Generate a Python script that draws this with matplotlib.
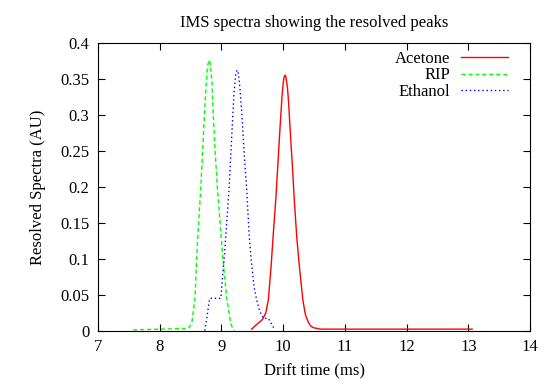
import matplotlib
matplotlib.use("Agg")
import matplotlib.pyplot as plt

plt.rcParams['font.family'] = ['Liberation Serif', 'DejaVu Serif']

# Acetone (red, solid)
acetone_x = [9.49, 9.55, 9.62, 9.669, 9.72, 9.76, 9.804, 9.84, 9.88, 9.92, 9.95, 9.98,
             10.0, 10.015, 10.031, 10.045, 10.07, 10.09, 10.11, 10.145, 10.18, 10.22,
             10.263, 10.318, 10.36, 10.41, 10.45, 10.49, 10.55, 10.6, 13.06]
acetone_y = [0.002, 0.007, 0.012, 0.016, 0.025, 0.043, 0.089, 0.135, 0.182, 0.240, 0.284, 0.325,
             0.345, 0.353, 0.356, 0.353, 0.338, 0.315, 0.284, 0.235, 0.182, 0.130,
             0.089, 0.043, 0.022, 0.011, 0.006, 0.004, 0.003, 0.002, 0.002]

# RIP (green, dashed)
rip_x = [7.57, 8.0, 8.464, 8.519, 8.572, 8.60, 8.63, 8.664, 8.695, 8.723, 8.75, 8.775,
         8.80, 8.82, 8.845, 8.869, 8.90, 8.937, 8.98, 9.021, 9.086, 9.151, 9.183, 9.21]
rip_y = [0.001, 0.002, 0.003, 0.010, 0.045, 0.103, 0.150, 0.196, 0.250, 0.298, 0.340, 0.368,
         0.377, 0.372, 0.348, 0.298, 0.247, 0.196, 0.148, 0.103, 0.045, 0.010, 0.003, 0.0]

# Ethanol (blue, dotted)
ethanol_x = [8.73, 8.76, 8.80, 8.815, 8.99, 9.01, 9.047, 9.085, 9.123, 9.155, 9.183, 9.205,
             9.23, 9.253, 9.275, 9.30, 9.334, 9.37, 9.41, 9.447, 9.48, 9.53, 9.57, 9.62,
             9.68, 9.76, 9.82, 9.857]
ethanol_y = [0.0, 0.015, 0.040, 0.045, 0.045, 0.066, 0.103, 0.150, 0.196, 0.250, 0.298, 0.332,
             0.356, 0.363, 0.358, 0.338, 0.298, 0.245, 0.196, 0.136, 0.100, 0.060, 0.043, 0.027,
             0.017, 0.017, 0.008, 0.002]

fig = plt.figure(figsize=(5.41, 3.82), dpi=100)
ax = fig.add_axes([0.181, 0.1346, 0.799, 0.7516])

ax.plot(acetone_x, acetone_y, color='#ff0000', lw=1.0, label='Acetone')
ax.plot(rip_x, rip_y, color='#00ff00', lw=1.0, ls=(0, (3, 2)), label='RIP')
ax.plot(ethanol_x, ethanol_y, color='#0000ff', lw=1.0, ls=(0, (1, 2)), label='Ethanol')

ax.set_xlim(7, 14)
ax.set_ylim(0, 0.4)
ax.set_xticks(range(7, 15))
ax.set_yticks([0, 0.05, 0.1, 0.15, 0.2, 0.25, 0.3, 0.35, 0.4])
ax.set_yticklabels(['0', '0.05', '0.1', '0.15', '0.2', '0.25', '0.3', '0.35', '0.4'])
ax.tick_params(direction='in', top=True, right=True, length=5, labelsize=12, pad=6)

ax.set_title('IMS spectra showing the resolved peaks', fontsize=12, pad=12)
ax.set_xlabel('Drift time (ms)', fontsize=12, labelpad=6)
ax.set_ylabel('Resolved Spectra (AU)', fontsize=12, labelpad=10)

# gnuplot-style key: text right-aligned, sample on the right
leg = ax.legend(loc='upper right', bbox_to_anchor=(0.949, 0.975), frameon=False,
                fontsize=12, markerfirst=False, handlelength=2.8, handletextpad=0.7,
                labelspacing=0.05, borderaxespad=0, borderpad=0)
for t in leg.get_texts():
    t.set_ha('right')

plt.savefig('out.png', dpi=100)
